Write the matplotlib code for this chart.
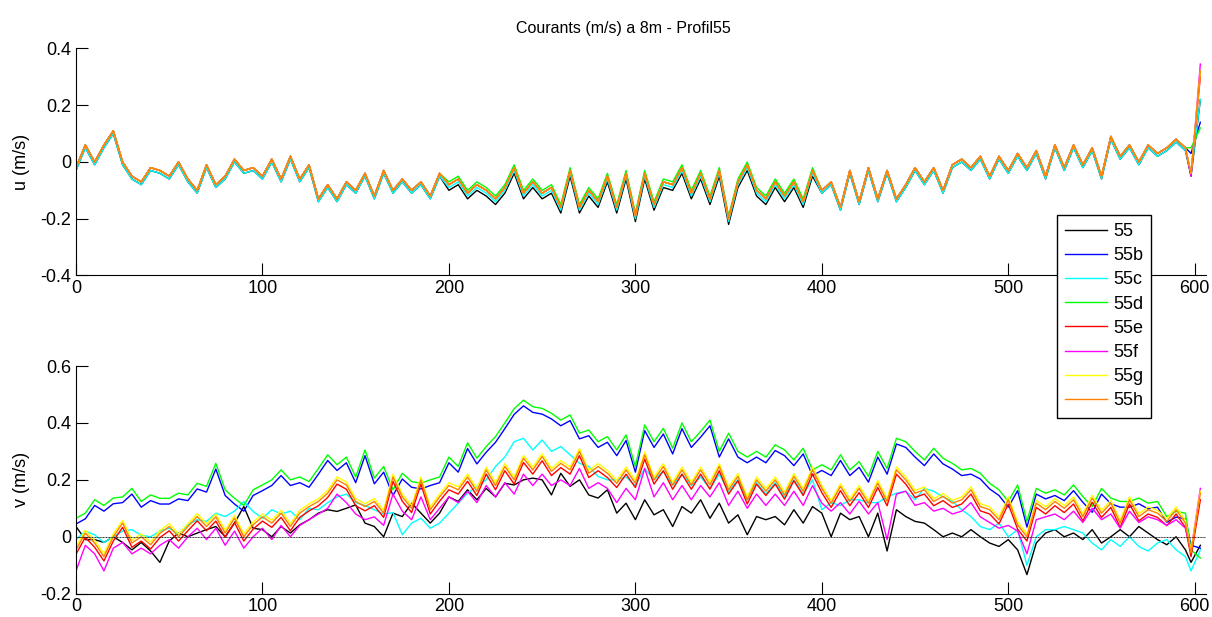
import matplotlib
matplotlib.use('Agg')
import matplotlib.pyplot as plt

plt.rcParams['font.family'] = ['Liberation Sans', 'DejaVu Sans']
plt.rcParams['font.size'] = 13

# sample positions (profile index)
x = list(range(0, 600, 5)) + [598, 603]

names = ['55', '55b', '55c', '55d', '55e', '55f', '55g', '55h']
colors = ['k', (0, 0, 1), (0, 1, 1), (0, 1, 0), (1, 0, 0), (1, 0, 1), (1, 1, 0), (1, 0.5, 0)]

# u (m/s)
u_55 = [-0.03, 0.05, -0.01, 0.05, 0.10, -0.01, -0.06, -0.08, -0.03, -0.04,
        -0.06, -0.01, -0.07, -0.11, -0.02, -0.09, -0.06, 0.00, -0.04, -0.03,
        -0.06, 0.00, -0.07, 0.01, -0.07, -0.02, -0.14, -0.09, -0.14, -0.08,
        -0.11, -0.05, -0.13, -0.04, -0.11, -0.07, -0.11, -0.08, -0.13, -0.05,
        -0.10, -0.08, -0.13, -0.10, -0.12, -0.15, -0.11, -0.04, -0.13, -0.09,
        -0.13, -0.11, -0.18, -0.05, -0.18, -0.12, -0.16, -0.07, -0.18, -0.06,
        -0.21, -0.06, -0.17, -0.09, -0.10, -0.04, -0.13, -0.06, -0.15, -0.05,
        -0.22, -0.09, -0.03, -0.12, -0.15, -0.09, -0.14, -0.09, -0.16, -0.05,
        -0.11, -0.08, -0.17, -0.04, -0.15, -0.03, -0.14, -0.04, -0.14, -0.09,
        -0.03, -0.08, -0.03, -0.11, -0.02, 0.00, -0.03, 0.01, -0.06, 0.01,
        -0.04, 0.02, -0.03, 0.03, -0.06, 0.05, -0.03, 0.05, -0.02, 0.04,
        -0.06, 0.08, 0.01, 0.05, -0.01, 0.05, 0.02, 0.04, 0.07, 0.04,
        -0.05, 0.22]
u_55b = [-0.02, 0.06, 0.00, 0.06, 0.11, 0.00, -0.05, -0.07, -0.02, -0.03,
         -0.05, 0.00, -0.06, -0.10, -0.01, -0.08, -0.05, 0.01, -0.03, -0.02,
         -0.05, 0.01, -0.06, 0.02, -0.06, -0.01, -0.13, -0.08, -0.13, -0.07,
         -0.10, -0.04, -0.12, -0.03, -0.10, -0.06, -0.10, -0.07, -0.12, -0.04,
         -0.08, -0.06, -0.11, -0.08, -0.10, -0.13, -0.09, -0.02, -0.11, -0.07,
         -0.11, -0.09, -0.16, -0.03, -0.16, -0.10, -0.14, -0.05, -0.16, -0.04,
         -0.19, -0.04, -0.15, -0.07, -0.08, -0.02, -0.11, -0.04, -0.13, -0.03,
         -0.20, -0.07, -0.01, -0.10, -0.13, -0.07, -0.12, -0.07, -0.14, -0.03,
         -0.10, -0.07, -0.16, -0.03, -0.14, -0.02, -0.13, -0.03, -0.13, -0.08,
         -0.02, -0.07, -0.02, -0.10, -0.01, 0.01, -0.02, 0.02, -0.05, 0.02,
         -0.03, 0.03, -0.02, 0.04, -0.05, 0.06, -0.02, 0.06, -0.01, 0.05,
         -0.05, 0.09, 0.02, 0.06, 0.00, 0.06, 0.03, 0.05, 0.08, 0.05,
         0.03, 0.14]
u_55c = [-0.03, 0.05, -0.01, 0.05, 0.10, -0.01, -0.06, -0.08, -0.03, -0.04,
         -0.06, -0.01, -0.07, -0.11, -0.02, -0.09, -0.06, 0.00, -0.04, -0.03,
         -0.06, 0.00, -0.07, 0.01, -0.07, -0.02, -0.14, -0.09, -0.14, -0.08,
         -0.11, -0.05, -0.13, -0.04, -0.11, -0.07, -0.11, -0.08, -0.13, -0.05,
         -0.09, -0.07, -0.12, -0.09, -0.11, -0.14, -0.10, -0.03, -0.12, -0.08,
         -0.12, -0.10, -0.17, -0.04, -0.17, -0.11, -0.15, -0.06, -0.17, -0.05,
         -0.20, -0.05, -0.16, -0.08, -0.09, -0.03, -0.12, -0.05, -0.14, -0.04,
         -0.21, -0.08, -0.02, -0.11, -0.14, -0.08, -0.13, -0.08, -0.15, -0.04,
         -0.11, -0.08, -0.17, -0.04, -0.15, -0.03, -0.14, -0.04, -0.14, -0.09,
         -0.03, -0.08, -0.03, -0.11, -0.02, 0.00, -0.03, 0.01, -0.06, 0.01,
         -0.04, 0.02, -0.03, 0.03, -0.06, 0.05, -0.03, 0.05, -0.02, 0.04,
         -0.06, 0.08, 0.01, 0.05, -0.01, 0.05, 0.02, 0.04, 0.07, 0.04,
         -0.04, 0.22]
u_55d = [-0.02, 0.06, 0.00, 0.06, 0.11, 0.00, -0.05, -0.07, -0.02, -0.03,
         -0.05, 0.00, -0.06, -0.10, -0.01, -0.08, -0.05, 0.01, -0.03, -0.02,
         -0.05, 0.01, -0.06, 0.02, -0.06, -0.01, -0.13, -0.08, -0.13, -0.07,
         -0.10, -0.04, -0.12, -0.03, -0.10, -0.06, -0.10, -0.07, -0.12, -0.04,
         -0.07, -0.05, -0.10, -0.07, -0.09, -0.12, -0.08, -0.01, -0.10, -0.06,
         -0.10, -0.08, -0.15, -0.02, -0.15, -0.09, -0.13, -0.04, -0.15, -0.03,
         -0.18, -0.03, -0.14, -0.06, -0.07, -0.01, -0.10, -0.03, -0.12, -0.02,
         -0.19, -0.06, 0.00, -0.09, -0.12, -0.06, -0.11, -0.06, -0.13, -0.02,
         -0.10, -0.07, -0.16, -0.03, -0.14, -0.02, -0.13, -0.03, -0.13, -0.08,
         -0.02, -0.07, -0.02, -0.10, -0.01, 0.01, -0.02, 0.02, -0.05, 0.02,
         -0.03, 0.03, -0.02, 0.04, -0.05, 0.06, -0.02, 0.06, -0.01, 0.05,
         -0.05, 0.09, 0.02, 0.06, 0.00, 0.06, 0.03, 0.05, 0.08, 0.05,
         0.05, 0.12]
u_55e = [-0.02, 0.06, 0.00, 0.06, 0.11, 0.00, -0.05, -0.07, -0.02, -0.03,
         -0.05, 0.00, -0.06, -0.10, -0.01, -0.08, -0.05, 0.01, -0.03, -0.02,
         -0.05, 0.01, -0.06, 0.02, -0.06, -0.01, -0.13, -0.08, -0.13, -0.07,
         -0.10, -0.04, -0.12, -0.03, -0.10, -0.06, -0.10, -0.07, -0.12, -0.04,
         -0.08, -0.06, -0.11, -0.08, -0.10, -0.13, -0.09, -0.02, -0.11, -0.07,
         -0.11, -0.09, -0.16, -0.03, -0.16, -0.10, -0.14, -0.05, -0.16, -0.04,
         -0.19, -0.04, -0.15, -0.07, -0.08, -0.02, -0.11, -0.04, -0.13, -0.03,
         -0.20, -0.07, -0.01, -0.10, -0.13, -0.07, -0.12, -0.07, -0.14, -0.03,
         -0.10, -0.07, -0.16, -0.03, -0.14, -0.02, -0.13, -0.03, -0.13, -0.08,
         -0.02, -0.07, -0.02, -0.10, -0.01, 0.01, -0.02, 0.02, -0.05, 0.02,
         -0.03, 0.03, -0.02, 0.04, -0.05, 0.06, -0.02, 0.06, -0.01, 0.05,
         -0.05, 0.09, 0.02, 0.06, 0.00, 0.06, 0.03, 0.05, 0.08, 0.05,
         -0.04, 0.30]
u_55f = [-0.02, 0.06, 0.00, 0.06, 0.11, 0.00, -0.05, -0.07, -0.02, -0.03,
         -0.05, 0.00, -0.06, -0.10, -0.01, -0.08, -0.05, 0.01, -0.03, -0.02,
         -0.05, 0.01, -0.06, 0.02, -0.06, -0.01, -0.13, -0.08, -0.13, -0.07,
         -0.10, -0.04, -0.12, -0.03, -0.10, -0.06, -0.10, -0.07, -0.12, -0.04,
         -0.08, -0.06, -0.11, -0.08, -0.10, -0.13, -0.09, -0.02, -0.11, -0.07,
         -0.11, -0.09, -0.16, -0.03, -0.16, -0.10, -0.14, -0.05, -0.16, -0.04,
         -0.19, -0.04, -0.15, -0.07, -0.08, -0.02, -0.11, -0.04, -0.13, -0.03,
         -0.20, -0.07, -0.01, -0.10, -0.13, -0.07, -0.12, -0.07, -0.14, -0.03,
         -0.10, -0.07, -0.16, -0.03, -0.14, -0.02, -0.13, -0.03, -0.13, -0.08,
         -0.02, -0.07, -0.02, -0.10, -0.01, 0.01, -0.02, 0.02, -0.05, 0.02,
         -0.03, 0.03, -0.02, 0.04, -0.05, 0.06, -0.02, 0.06, -0.01, 0.05,
         -0.05, 0.09, 0.02, 0.06, 0.00, 0.06, 0.03, 0.05, 0.08, 0.05,
         -0.05, 0.345]
u_55g = [-0.02, 0.06, 0.00, 0.06, 0.11, 0.00, -0.05, -0.07, -0.02, -0.03,
         -0.05, 0.00, -0.06, -0.10, -0.01, -0.08, -0.05, 0.01, -0.03, -0.02,
         -0.05, 0.01, -0.06, 0.02, -0.06, -0.01, -0.13, -0.08, -0.13, -0.07,
         -0.10, -0.04, -0.12, -0.03, -0.10, -0.06, -0.10, -0.07, -0.12, -0.04,
         -0.08, -0.06, -0.11, -0.08, -0.10, -0.13, -0.09, -0.02, -0.11, -0.07,
         -0.11, -0.09, -0.16, -0.03, -0.16, -0.10, -0.14, -0.05, -0.16, -0.04,
         -0.19, -0.04, -0.15, -0.07, -0.08, -0.02, -0.11, -0.04, -0.13, -0.03,
         -0.20, -0.07, -0.01, -0.10, -0.13, -0.07, -0.12, -0.07, -0.14, -0.03,
         -0.10, -0.07, -0.16, -0.03, -0.14, -0.02, -0.13, -0.03, -0.13, -0.08,
         -0.02, -0.07, -0.02, -0.10, -0.01, 0.01, -0.02, 0.02, -0.05, 0.02,
         -0.03, 0.03, -0.02, 0.04, -0.05, 0.06, -0.02, 0.06, -0.01, 0.05,
         -0.05, 0.09, 0.02, 0.06, 0.00, 0.06, 0.03, 0.05, 0.08, 0.05,
         -0.04, 0.32]
u_55h = [-0.02, 0.06, 0.00, 0.06, 0.11, 0.00, -0.05, -0.07, -0.02, -0.03,
         -0.05, 0.00, -0.06, -0.10, -0.01, -0.08, -0.05, 0.01, -0.03, -0.02,
         -0.05, 0.01, -0.06, 0.02, -0.06, -0.01, -0.13, -0.08, -0.13, -0.07,
         -0.10, -0.04, -0.12, -0.03, -0.10, -0.06, -0.10, -0.07, -0.12, -0.04,
         -0.08, -0.06, -0.11, -0.08, -0.10, -0.13, -0.09, -0.02, -0.11, -0.07,
         -0.11, -0.09, -0.16, -0.03, -0.16, -0.10, -0.14, -0.05, -0.16, -0.04,
         -0.19, -0.04, -0.15, -0.07, -0.08, -0.02, -0.11, -0.04, -0.13, -0.03,
         -0.20, -0.07, -0.01, -0.10, -0.13, -0.07, -0.12, -0.07, -0.14, -0.03,
         -0.10, -0.07, -0.16, -0.03, -0.14, -0.02, -0.13, -0.03, -0.13, -0.08,
         -0.02, -0.07, -0.02, -0.10, -0.01, 0.01, -0.02, 0.02, -0.05, 0.02,
         -0.03, 0.03, -0.02, 0.04, -0.05, 0.06, -0.02, 0.06, -0.01, 0.05,
         -0.05, 0.09, 0.02, 0.06, 0.00, 0.06, 0.03, 0.05, 0.08, 0.05,
         -0.04, 0.32]

# v (m/s)
v_55 = [0.036, -0.01, -0.01, -0.02, 0.0, -0.02, -0.046, -0.02, -0.05, -0.09,
        -0.015, 0.013, 0.0, 0.013, 0.025, 0.036, 0.0, 0.048, 0.106, 0.03,
        0.025, 0.0, 0.036, 0.013, 0.042, 0.06, 0.083, 0.095, 0.089, 0.1,
        0.112, 0.048, 0.036, 0.0, 0.083, 0.071, 0.118, 0.083, 0.048, 0.083,
        0.14, 0.124, 0.165, 0.13, 0.17, 0.14, 0.188, 0.182, 0.2, 0.206,
        0.2, 0.147, 0.223, 0.177, 0.2, 0.147, 0.136, 0.165, 0.083, 0.118,
        0.06, 0.13, 0.077, 0.095, 0.036, 0.106, 0.083, 0.13, 0.065, 0.118,
        0.048, 0.077, 0.007, 0.071, 0.06, 0.071, 0.042, 0.095, 0.048, 0.106,
        0.083, 0.0, 0.083, 0.06, 0.071, 0.0, 0.083, -0.05, 0.095, 0.071,
        0.054, 0.048, 0.025, 0.0, 0.013, 0.0, 0.025, 0.0, -0.022, -0.034,
        -0.01, -0.046, -0.133, -0.022, 0.013, 0.025, 0.0, 0.013, -0.01, 0.025,
        -0.022, 0.0, 0.025, 0.0, 0.036, 0.013, -0.01, -0.028, 0.0, -0.046,
        -0.09, -0.03]
v_55b = [0.045, 0.063, 0.11, 0.09, 0.116, 0.12, 0.15, 0.104, 0.127, 0.115,
         0.115, 0.133, 0.127, 0.168, 0.157, 0.238, 0.145, 0.115, 0.09, 0.145,
         0.162, 0.18, 0.215, 0.18, 0.19, 0.174, 0.22, 0.268, 0.233, 0.26,
         0.19, 0.285, 0.186, 0.227, 0.145, 0.203, 0.174, 0.168, 0.18, 0.19,
         0.26, 0.227, 0.31, 0.256, 0.297, 0.332, 0.38, 0.43, 0.46, 0.437,
         0.431, 0.414, 0.39, 0.408, 0.344, 0.355, 0.314, 0.332, 0.285, 0.338,
         0.227, 0.373, 0.314, 0.361, 0.291, 0.38, 0.314, 0.35, 0.39, 0.28,
         0.344, 0.28, 0.26, 0.28, 0.26, 0.303, 0.285, 0.25, 0.291, 0.215,
         0.233, 0.215, 0.268, 0.215, 0.244, 0.192, 0.28, 0.22, 0.326, 0.314,
         0.28, 0.25, 0.291, 0.256, 0.238, 0.215, 0.22, 0.203, 0.168, 0.145,
         0.104, 0.162, 0.034, 0.15, 0.133, 0.145, 0.127, 0.162, 0.121, 0.086,
         0.15, 0.116, 0.104, 0.104, 0.116, 0.098, 0.104, 0.051, 0.069, 0.063,
         -0.03, -0.04]
v_55c = [-0.01, 0.02, 0.007, -0.02, 0.0, 0.02, 0.025, 0.005, 0.0, 0.02,
         0.03, 0.01, 0.042, 0.06, 0.054, 0.083, 0.071, 0.09, 0.124, 0.089,
         0.065, 0.095, 0.08, 0.09, 0.06, 0.1, 0.095, 0.12, 0.14, 0.15,
         0.12, 0.11, 0.095, 0.08, 0.085, 0.007, 0.048, 0.065, 0.03, 0.048,
         0.083, 0.118, 0.153, 0.177, 0.2, 0.247, 0.28, 0.334, 0.346, 0.305,
         0.34, 0.3, 0.317, 0.288, 0.258, 0.247, 0.212, 0.2, 0.2, 0.21,
         0.18, 0.24, 0.2, 0.23, 0.18, 0.22, 0.18, 0.21, 0.17, 0.22,
         0.16, 0.2, 0.13, 0.19, 0.15, 0.19, 0.14, 0.2, 0.15, 0.2,
         0.095, 0.12, 0.11, 0.13, 0.13, 0.12, 0.12, 0.14, 0.153, 0.16,
         0.13, 0.17, 0.16, 0.14, 0.125, 0.095, 0.071, 0.036, 0.025, 0.048,
         0.0, 0.025, -0.1, 0.0, 0.025, 0.025, 0.036, 0.025, 0.013, -0.022,
         -0.046, -0.01, -0.034, 0.0, -0.034, -0.05, -0.022, -0.01, -0.046, -0.07,
         -0.12, -0.046]
v_55d = [0.065, 0.083, 0.13, 0.11, 0.136, 0.14, 0.17, 0.124, 0.147, 0.135,
         0.135, 0.153, 0.147, 0.188, 0.177, 0.258, 0.165, 0.135, 0.11, 0.165,
         0.182, 0.2, 0.235, 0.2, 0.21, 0.194, 0.24, 0.288, 0.253, 0.28,
         0.21, 0.305, 0.206, 0.247, 0.165, 0.223, 0.194, 0.188, 0.2, 0.21,
         0.28, 0.247, 0.33, 0.276, 0.317, 0.352, 0.40, 0.45, 0.48, 0.457,
         0.451, 0.434, 0.41, 0.428, 0.364, 0.375, 0.334, 0.352, 0.305, 0.358,
         0.247, 0.393, 0.334, 0.381, 0.311, 0.40, 0.334, 0.37, 0.41, 0.30,
         0.364, 0.30, 0.28, 0.30, 0.28, 0.323, 0.305, 0.27, 0.311, 0.235,
         0.253, 0.235, 0.288, 0.235, 0.264, 0.212, 0.30, 0.24, 0.346, 0.334,
         0.30, 0.27, 0.311, 0.276, 0.258, 0.235, 0.24, 0.223, 0.188, 0.165,
         0.124, 0.182, 0.054, 0.17, 0.153, 0.165, 0.147, 0.182, 0.141, 0.106,
         0.17, 0.136, 0.124, 0.124, 0.136, 0.118, 0.124, 0.071, 0.089, 0.083,
         -0.046, -0.075]
v_55e = [-0.061, -0.002, -0.037, -0.085, -0.015, 0.033, -0.037, -0.015, -0.043, -0.003,
         0.021, -0.015, 0.021, 0.056, 0.021, 0.055, -0.002, 0.05, -0.015, 0.027,
         0.055, 0.033, 0.068, 0.021, 0.068, 0.091, 0.109, 0.138, 0.185, 0.167,
         0.109, 0.091, 0.109, 0.068, 0.195, 0.125, 0.085, 0.185, 0.08, 0.125,
         0.165, 0.15, 0.195, 0.145, 0.22, 0.165, 0.232, 0.185, 0.261, 0.22,
         0.267, 0.215, 0.243, 0.22, 0.285, 0.208, 0.232, 0.208, 0.173, 0.22,
         0.173, 0.273, 0.185, 0.232, 0.167, 0.22, 0.167, 0.22, 0.167, 0.232,
         0.15, 0.197, 0.115, 0.185, 0.145, 0.185, 0.132, 0.197, 0.145, 0.22,
         0.155, 0.103, 0.162, 0.109, 0.155, 0.103, 0.173, 0.109, 0.22, 0.185,
         0.138, 0.15, 0.109, 0.127, 0.103, 0.115, 0.15, 0.091, 0.08, 0.045,
         0.115, 0.027, -0.015, 0.103, 0.08, 0.109, 0.085, 0.115, 0.056, 0.121,
         0.068, 0.103, 0.033, 0.115, 0.056, 0.08, 0.068, 0.039, 0.08, 0.033,
         -0.07, 0.13]
v_55f = [-0.12, -0.03, -0.06, -0.12, -0.04, -0.02, -0.06, -0.04, -0.06, -0.03,
         -0.01, -0.04, 0.0, 0.03, -0.01, 0.03, -0.03, 0.02, -0.04, 0.0,
         0.03, -0.01, 0.04, 0.0, 0.04, 0.06, 0.08, 0.1, 0.15, 0.12,
         0.08, 0.06, 0.07, 0.04, 0.15, 0.09, 0.06, 0.14, 0.06, 0.1,
         0.14, 0.12, 0.16, 0.12, 0.18, 0.14, 0.19, 0.15, 0.22, 0.18,
         0.22, 0.18, 0.2, 0.18, 0.24, 0.17, 0.19, 0.17, 0.12, 0.17,
         0.13, 0.24, 0.14, 0.19, 0.13, 0.18, 0.13, 0.18, 0.14, 0.19,
         0.11, 0.16, 0.1, 0.15, 0.11, 0.15, 0.11, 0.16, 0.11, 0.18,
         0.118, 0.09, 0.12, 0.08, 0.125, 0.08, 0.12, -0.01, 0.15, 0.16,
         0.11, 0.12, 0.09, 0.1, 0.08, 0.09, 0.12, 0.07, 0.05, 0.03,
         0.04, 0.02, -0.06, 0.06, 0.07, 0.08, 0.06, 0.09, 0.05, 0.1,
         0.06, 0.08, 0.03, 0.09, 0.05, 0.07, 0.06, 0.04, 0.06, 0.03,
         -0.05, 0.17]
v_55g = [-0.036, 0.023, -0.012, -0.06, 0.01, 0.058, -0.012, 0.01, -0.018, 0.022,
         0.046, 0.01, 0.046, 0.081, 0.046, 0.08, 0.023, 0.075, 0.01, 0.052,
         0.08, 0.058, 0.093, 0.046, 0.093, 0.116, 0.134, 0.163, 0.21, 0.192,
         0.134, 0.116, 0.134, 0.093, 0.22, 0.15, 0.11, 0.21, 0.105, 0.15,
         0.19, 0.175, 0.22, 0.17, 0.245, 0.19, 0.257, 0.21, 0.286, 0.245,
         0.292, 0.24, 0.268, 0.245, 0.31, 0.233, 0.257, 0.233, 0.198, 0.245,
         0.198, 0.298, 0.21, 0.257, 0.192, 0.245, 0.192, 0.245, 0.192, 0.257,
         0.175, 0.222, 0.14, 0.21, 0.17, 0.21, 0.157, 0.222, 0.17, 0.245,
         0.18, 0.128, 0.187, 0.134, 0.18, 0.128, 0.198, 0.134, 0.245, 0.21,
         0.163, 0.175, 0.134, 0.152, 0.128, 0.14, 0.175, 0.116, 0.105, 0.07,
         0.14, 0.052, 0.01, 0.128, 0.105, 0.134, 0.11, 0.14, 0.081, 0.146,
         0.093, 0.128, 0.058, 0.14, 0.081, 0.105, 0.093, 0.064, 0.105, 0.058,
         -0.05, 0.16]
v_55h = [-0.046, 0.013, -0.022, -0.07, 0.0, 0.048, -0.022, 0.0, -0.028, 0.012,
         0.036, 0.0, 0.036, 0.071, 0.036, 0.07, 0.013, 0.065, 0.0, 0.042,
         0.07, 0.048, 0.083, 0.036, 0.083, 0.106, 0.124, 0.153, 0.2, 0.182,
         0.124, 0.106, 0.124, 0.083, 0.21, 0.14, 0.1, 0.2, 0.095, 0.14,
         0.18, 0.165, 0.21, 0.16, 0.235, 0.18, 0.247, 0.2, 0.276, 0.235,
         0.282, 0.23, 0.258, 0.235, 0.3, 0.223, 0.247, 0.223, 0.188, 0.235,
         0.188, 0.288, 0.2, 0.247, 0.182, 0.235, 0.182, 0.235, 0.182, 0.247,
         0.165, 0.212, 0.13, 0.2, 0.16, 0.2, 0.147, 0.212, 0.16, 0.235,
         0.17, 0.118, 0.177, 0.124, 0.17, 0.118, 0.188, 0.124, 0.235, 0.2,
         0.153, 0.165, 0.124, 0.142, 0.118, 0.13, 0.165, 0.106, 0.095, 0.06,
         0.13, 0.042, 0.0, 0.118, 0.095, 0.124, 0.1, 0.13, 0.071, 0.136,
         0.083, 0.118, 0.048, 0.13, 0.071, 0.095, 0.083, 0.054, 0.095, 0.048,
         -0.057, 0.153]

u_all = [u_55, u_55b, u_55c, u_55d, u_55e, u_55f, u_55g, u_55h]
v_all = [v_55, v_55b, v_55c, v_55d, v_55e, v_55f, v_55g, v_55h]

xticks = [0, 100, 200, 300, 400, 500, 600]
xticklabels = ['0', '100', '200', '300', '400', '500', '600']
u_ticks = [-0.4, -0.2, 0, 0.2, 0.4]
u_ticklabels = ['-0.4', '-0.2', '0', '0.2', '0.4']
v_ticks = [-0.2, 0, 0.2, 0.4, 0.6]
v_ticklabels = ['-0.2', '0', '0.2', '0.4', '0.6']

fig = plt.figure(figsize=(12.12, 6.17), dpi=100)
ax1 = fig.add_axes([0.0627, 0.5535, 0.9323, 0.368])
ax2 = fig.add_axes([0.0627, 0.0378, 0.9323, 0.369])

lines = []
for i in range(len(names)):
    l, = ax1.plot(x, u_all[i], color=colors[i], lw=1.0, label=names[i])
    lines.append(l)
    ax2.plot(x, v_all[i], color=colors[i], lw=1.0)

# zero reference line
ax2.axhline(0, color='0.15', lw=0.7, ls=(0, (1, 0.6)))

for ax in (ax1, ax2):
    ax.set_xlim(0, 606)
    ax.spines['top'].set_visible(False)
    ax.spines['right'].set_visible(False)
    ax.spines['left'].set_linewidth(0.8)
    ax.spines['bottom'].set_linewidth(0.8)
    ax.tick_params(direction='in', length=8.5, width=0.8, labelsize=13)
    ax.tick_params(axis='x', pad=3)
    ax.tick_params(axis='y', pad=3.5)
    ax.set_xticks(xticks)
    ax.set_xticklabels(xticklabels)

ax1.set_ylim(-0.4, 0.4)
ax1.set_yticks(u_ticks)
ax1.set_yticklabels(u_ticklabels)
ax1.set_ylabel('u (m/s)', fontsize=13)
ax1.yaxis.set_label_coords(-0.041, 0.5)

ax2.set_ylim(-0.2, 0.6)
ax2.set_yticks(v_ticks)
ax2.set_yticklabels(v_ticklabels)
ax2.set_ylabel('v (m/s)', fontsize=13)
ax2.yaxis.set_label_coords(-0.041, 0.5)

fig.text(623 / 1212, 1 - 28 / 617, 'Courants (m/s) a 8m - Profil55',
         ha='center', va='center', fontsize=11.5)

leg = fig.legend(lines, names, loc='upper left', bbox_to_anchor=(0.8721, 0.652),
                 bbox_transform=fig.transFigure, fancybox=False, edgecolor='k',
                 framealpha=1, borderpad=0.45, labelspacing=0.4, handlelength=2.3,
                 handletextpad=0.35, borderaxespad=0, fontsize=13)
leg.get_frame().set_linewidth(1.0)

fig.savefig('out.png', dpi=100)
